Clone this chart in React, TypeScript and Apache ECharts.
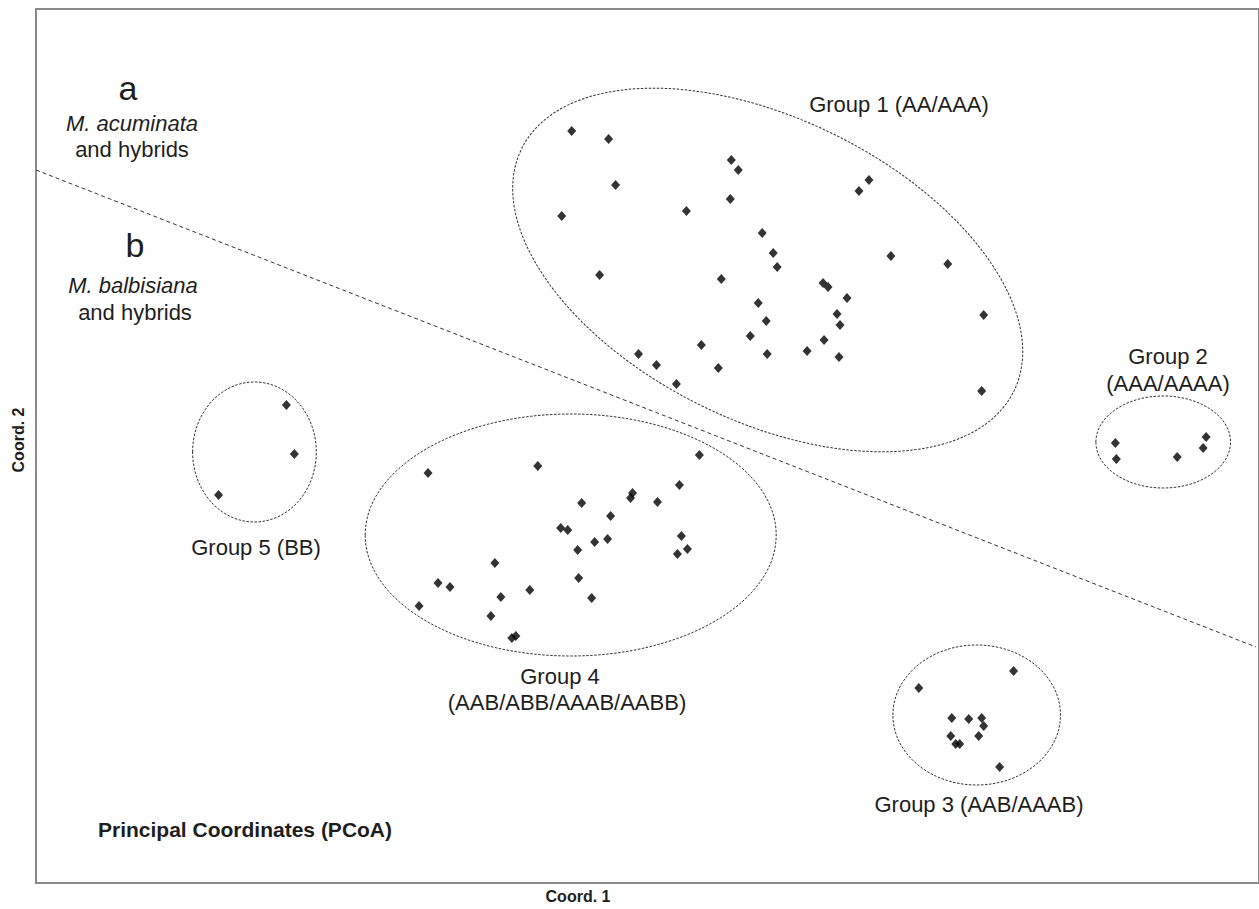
import React, { useEffect, useRef } from "react";
import * as echarts from "echarts";

// Coordinates in chart units (Coord. 1 horizontal, Coord. 2 vertical)
const group1: number[][] = [
  [537, 752], [574, 744], [697, 723], [704, 713], [581, 698], [835, 703], [825, 692],
  [696, 684], [652, 672], [527, 667], [728, 650], [739, 630], [743, 616], [857, 627],
  [914, 619], [565, 608], [687, 604], [789, 600], [794, 596], [813, 585], [724, 580],
  [803, 569], [950, 568], [732, 562], [806, 558], [716, 547], [667, 538], [790, 543],
  [604, 529], [733, 529], [773, 532], [805, 526], [622, 518], [684, 515], [642, 499],
  [948, 492],
];
const group2: number[][] = [
  [1082, 440], [1083, 424], [1144, 426], [1173, 446], [1170, 435],
];
const group3: number[][] = [
  [980, 212], [885, 195], [918, 165], [935, 164], [948, 165], [950, 157],
  [917, 147], [945, 147], [922, 139], [926, 139], [966, 116],
];
const group4: number[][] = [
  [393, 410], [503, 417], [665, 428], [645, 398], [598, 390], [596, 385], [623, 381],
  [547, 380], [576, 367], [526, 355], [533, 353], [573, 344], [560, 341], [543, 333],
  [647, 347], [653, 334], [643, 329], [460, 320], [544, 305], [403, 300], [415, 296],
  [495, 293], [466, 286], [557, 285], [384, 277], [456, 267], [477, 245], [481, 247],
];
const group5: number[][] = [
  [251, 478], [259, 429], [183, 388],
];
// group ellipses: centre x, centre y, semi-axis x, semi-axis y, tilt (deg, clockwise)
const ellipses: number[][] = [
  [733.5, 613, 275, 151, 26.2],
  [1130, 441, 67.5, 46, 0],
  [943, 168, 84, 70, 0],
  [536, 348, 206, 121, 0],
  [219, 431, 62, 70, 0],
];
// dividing line between a and b
const divider: number[][] = [
  [0, 713],
  [1223, 236],
];

const FONT = "'Liberation Sans', Arial, sans-serif";
const TXT = "#1e1e1e";

export default function App() {
  const ref = useRef<HTMLDivElement>(null);
  useEffect(() => {
    if (!ref.current) return;
    const chart = echarts.init(ref.current, null, { renderer: "svg" });
    const scatter = (name: string, data: number[][]) => ({
      name,
      type: "scatter",
      data,
      symbol: "diamond",
      symbolSize: [9, 10],
      itemStyle: { color: "#000" },
      silent: true,
      z: 5,
    });
    const text = (
      t: string,
      x: number,
      y: number,
      size: number,
      opts: any = {}
    ) => ({
      type: "text",
      x,
      y,
      rotation: opts.rotation || 0,
      silent: true,
      style: {
        text: t,
        fill: TXT,
        font: `${opts.style || "normal"} ${opts.weight || "normal"} ${size}px ${FONT}`,
        textAlign: opts.align || "center",
        textVerticalAlign: "middle",
      },
    });
    chart.setOption({
      animation: false,
      backgroundColor: "#fff",
      grid: {
        left: 36,
        top: 9,
        width: 1226,
        height: 874,
        show: true,
        borderColor: "#8a8a8a",
        borderWidth: 2,
        backgroundColor: "transparent",
      },
      xAxis: {
        type: "value",
        min: 0,
        max: 1226,
        axisLine: { show: false },
        axisTick: { show: false },
        axisLabel: { show: false },
        splitLine: { show: false },
      },
      yAxis: {
        type: "value",
        min: 0,
        max: 874,
        axisLine: { show: false },
        axisTick: { show: false },
        axisLabel: { show: false },
        splitLine: { show: false },
      },
      series: [
        {
          name: "divider",
          type: "line",
          data: divider,
          symbol: "none",
          silent: true,
          lineStyle: { color: "#333", width: 1, type: [4, 3] },
        },
        {
          name: "ellipses",
          type: "custom",
          data: ellipses,
          silent: true,
          renderItem: (params: any, api: any) => {
            const c = api.coord([api.value(0), api.value(1)]);
            const s = api.size([api.value(2), api.value(3)]);
            return {
              type: "ellipse",
              x: c[0],
              y: c[1],
              rotation: (-api.value(4) * Math.PI) / 180,
              shape: { cx: 0, cy: 0, rx: s[0], ry: s[1] },
              style: {
                fill: "none",
                stroke: "#333",
                lineWidth: 1,
                lineDash: [2.5, 1.5],
              },
            };
          },
        },
        scatter("Group 1", group1),
        scatter("Group 2", group2),
        scatter("Group 3", group3),
        scatter("Group 4", group4),
        scatter("Group 5", group5),
      ],
      graphic: [
        text("a", 128, 88, 34),
        text("M. acuminata", 132, 123, 22, { style: "italic" }),
        text("and hybrids", 132, 149, 22),
        text("b", 135, 245, 34),
        text("M. balbisiana", 133, 285, 22, { style: "italic" }),
        text("and hybrids", 135, 312, 22),
        text("Group 1 (AA/AAA)", 899, 104, 22),
        text("Group 2", 1168, 356, 22),
        text("(AAA/AAAA)", 1168, 383, 22),
        text("Group 5 (BB)", 256, 547, 22),
        text("Group 4", 560, 676, 22),
        text("(AAB/ABB/AAAB/AABB)", 567, 702, 22),
        text("Group 3 (AAB/AAAB)", 979, 804, 22),
        text("Principal Coordinates (PCoA)", 98, 829, 21, { weight: "bold", align: "left" }),
        text("Coord. 1", 578, 896, 16, { weight: "bold" }),
        text("Coord. 2", 18, 440, 16, { weight: "bold", rotation: Math.PI / 2 }),
      ],
    });
    return () => chart.dispose();
  }, []);
  return (
    <div
      ref={ref}
      style={{ position: "fixed", left: 0, top: 0, width: 1259, height: 909 }}
    />
  );
}
